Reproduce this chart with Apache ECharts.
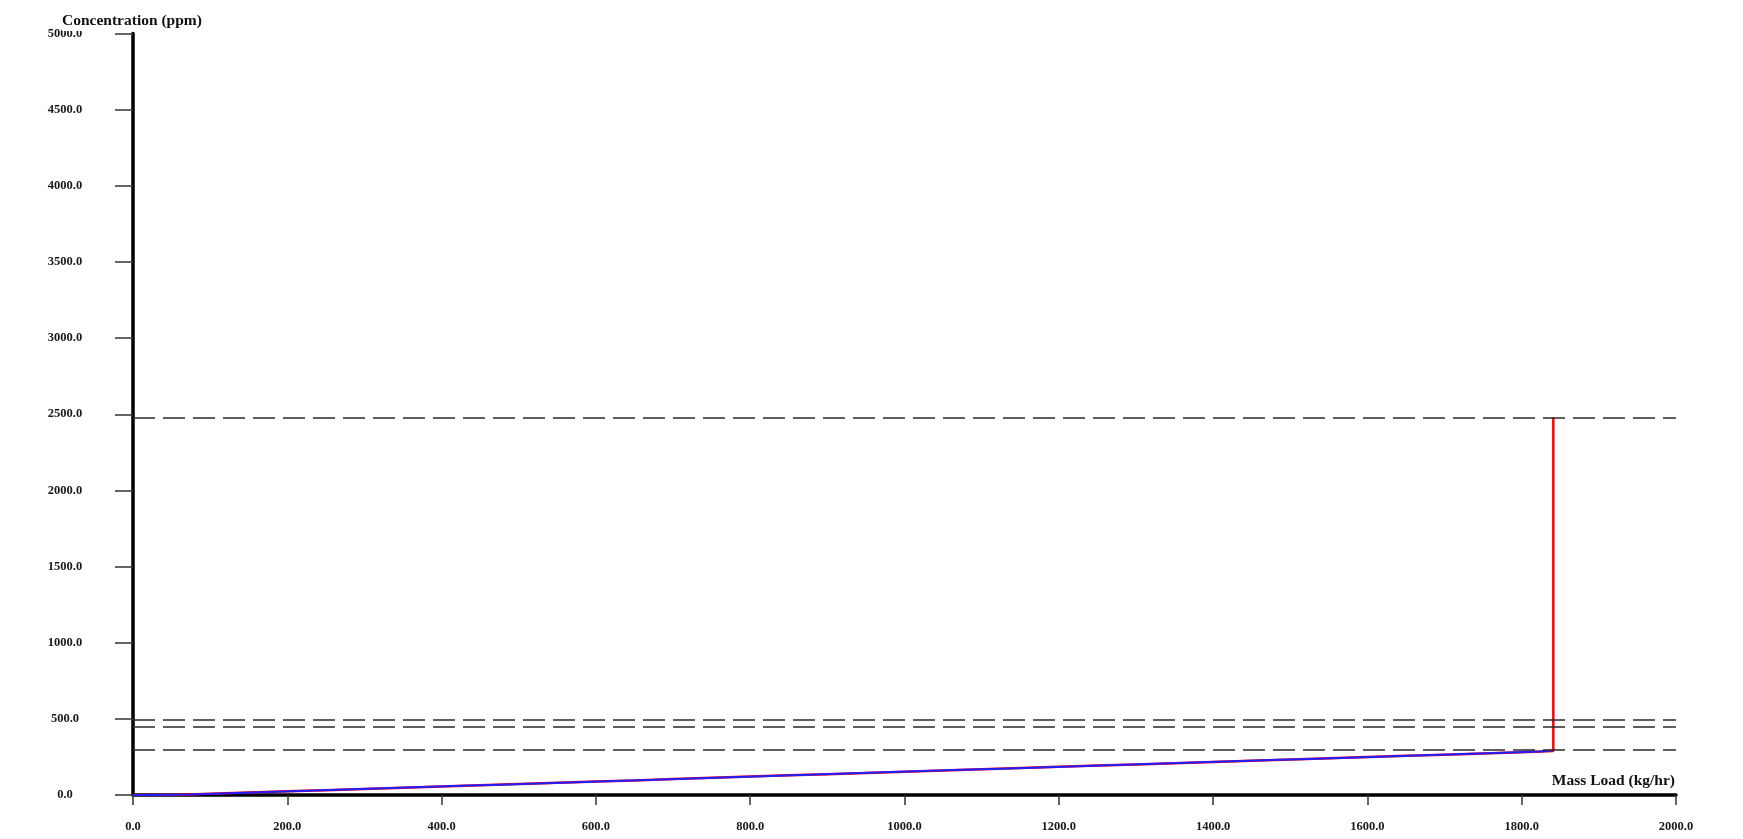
<!DOCTYPE html>
<html>
<head>
<meta charset="utf-8">
<script src="https://cdn.jsdelivr.net/npm/echarts@6/dist/echarts.min.js"></script>
<style>
html,body{margin:0;padding:0;background:#fff;}
#chart{width:1743px;height:839px;}
</style>
</head>
<body>
<div id="chart"></div>
<script>
// ---- data ----
var xTicks = [0, 200, 400, 600, 800, 1000, 1200, 1400, 1600, 1800, 2000];
var yTicks = [0, 500, 1000, 1500, 2000, 2500, 3000, 3500, 4000, 4500, 5000];

// red staircase (mass load kg/hr, concentration ppm)
var redX = [0, 50, 100, 150, 200, 250, 300, 350, 400, 450, 500, 550, 600, 650, 700, 750, 800, 850, 900, 950, 1000,
            1050, 1100, 1150, 1200, 1250, 1300, 1350, 1400, 1450, 1500, 1550, 1600, 1650, 1700, 1750, 1800, 1841, 1841];
var redY = [0, 8, 16, 24, 32, 40, 48, 56, 64, 72, 80, 88, 96, 105, 113, 121, 129, 137, 145, 153, 161,
            169, 177, 185, 193, 201, 209, 217, 225, 233, 241, 249, 257, 265, 273, 281, 289, 296, 2480];

// blue staircase
var blueX = [0, 25, 75, 125, 175, 225, 275, 325, 375, 425, 475, 525, 575, 625, 675, 725, 775, 825, 875, 925, 975,
             1025, 1075, 1125, 1175, 1225, 1275, 1325, 1375, 1425, 1475, 1525, 1575, 1625, 1675, 1725, 1775, 1825, 1841];
var blueY = [0, 4, 12, 20, 28, 36, 44, 52, 60, 68, 76, 84, 92, 100, 109, 117, 125, 133, 141, 149, 157,
             165, 173, 181, 189, 197, 205, 213, 221, 229, 237, 245, 253, 261, 269, 277, 285, 293, 296];

// horizontal dashed reference levels (ppm)
var refLevels = [2480, 493, 446, 296];

var chart = echarts.init(document.getElementById('chart'), null, {renderer: 'canvas'});

function pairs(xs, ys) {
  var out = [];
  for (var i = 0; i < xs.length; i++) out.push([xs[i], ys[i]]);
  return out;
}

var labelFont = {fontFamily: 'Liberation Serif', fontWeight: 'bold', fontSize: 12.5, color: '#1a1a1a'};

var option = {
  animation: false,
  backgroundColor: '#ffffff',
  title: [
    {
      text: 'Concentration (ppm)',
      left: 62, top: 13,
      padding: [0, 0, 2, 0],
      backgroundColor: '#ffffff',
      textStyle: {fontFamily: 'Liberation Serif', fontWeight: 'bold', fontSize: 15.5, color: '#111'}
    },
    {
      text: 'Mass Load (kg/hr)',
      right: 68, top: 773,
      padding: 0,
      textStyle: {fontFamily: 'Liberation Serif', fontWeight: 'bold', fontSize: 15.5, color: '#111'}
    }
  ],
  grid: {left: 133, right: 67, top: 33.5, bottom: 44, containLabel: false},
  xAxis: {
    type: 'value',
    min: xTicks[0], max: xTicks[xTicks.length - 1], interval: 200,
    splitLine: {show: false},
    axisLine: {show: true, onZero: false, lineStyle: {color: '#000', width: 3.5}},
    axisTick: {show: true, length: 10, lineStyle: {color: '#333', width: 1.5}},
    axisLabel: Object.assign({margin: 25, formatter: function (v) { return v.toFixed(1); }}, labelFont)
  },
  yAxis: {
    type: 'value',
    min: yTicks[0], max: yTicks[yTicks.length - 1], interval: 500,
    splitLine: {show: false},
    axisLine: {show: true, onZero: false, lineStyle: {color: '#000', width: 3.5}},
    axisTick: {show: true, length: 18, lineStyle: {color: '#333', width: 1.5}},
    axisLabel: Object.assign({margin: 68, align: 'center', padding: [0, 0, 6, 0],
      formatter: function (v) { return v.toFixed(1); }}, labelFont)
  },
  series: [
    {
      type: 'line',
      data: [],
      z: 1,
      silent: true,
      markLine: {
        silent: true,
        symbol: ['none', 'none'],
        label: {show: false},
        lineStyle: {color: '#2a2a2a', width: 1.5, type: [22, 8]},
        emphasis: {disabled: true},
        data: refLevels.map(function (v) { return {yAxis: v}; })
      }
    },
    {
      type: 'line',
      data: pairs(redX, redY),
      step: 'end',
      z: 2,
      symbol: 'none',
      lineStyle: {color: '#ff0000', width: 2.5},
      itemStyle: {color: '#ff0000'}
    },
    {
      type: 'line',
      data: pairs(blueX, blueY),
      step: 'end',
      z: 3,
      symbol: 'none',
      lineStyle: {color: '#1e1eff', width: 2},
      itemStyle: {color: '#1e1eff'}
    }
  ]
};
chart.setOption(option);
</script>
</body>
</html>
